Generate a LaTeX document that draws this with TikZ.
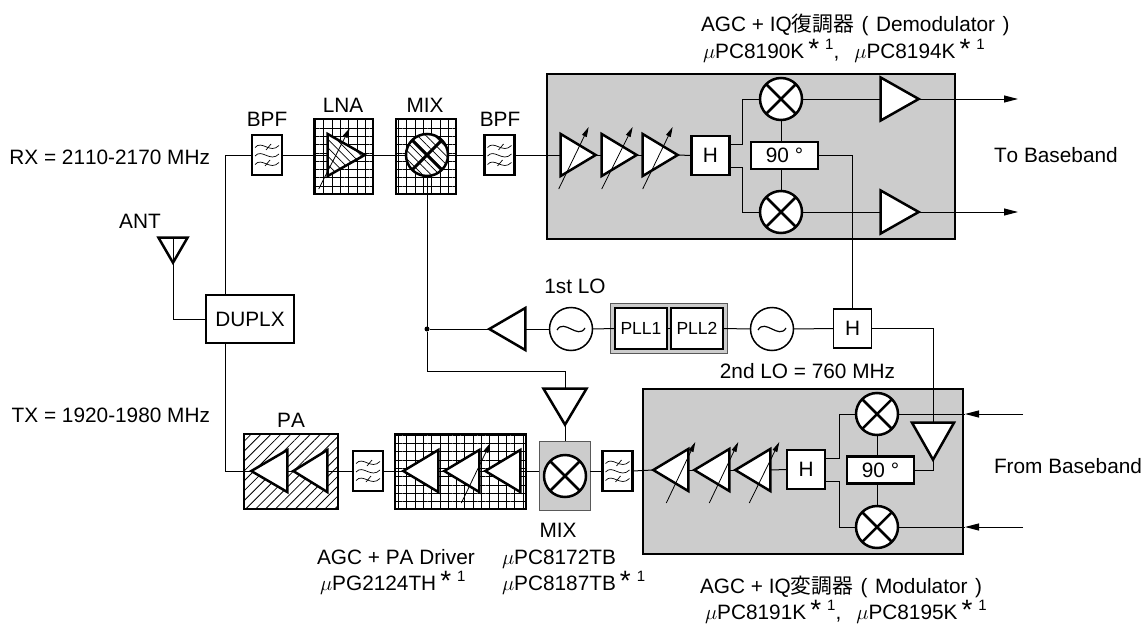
\documentclass[tikz,border=0pt]{standalone}
\usepackage{fontspec}
\setmainfont[Kerning=Off]{Liberation Sans}
\newfontfamily\cjk{Noto Sans CJK JP}
\usetikzlibrary{arrows.meta,patterns.meta,shapes.geometric}
\newcommand{\starone}{\smash{\hspace{4pt}{\fontsize{28}{28}\selectfont *}\hspace{6pt}\raisebox{9pt}{\fontsize{15}{15}\selectfont 1}}}
\begin{document}
\begin{tikzpicture}[
            x=1pt, y=-1pt, line width=1pt,
            every node/.style={inner sep=0pt, outer sep=0pt, font=\fontsize{20.8}{24}\selectfont},
            txt/.style={anchor=base},
            txtw/.style={anchor=base west},
            block/.style={rectangle, draw, line width=2.5pt, fill=white},
            graybox/.style={rectangle, draw, line width=2.5pt, fill=black!20},
            thinbox/.style={rectangle, draw=black!65, line width=1pt, fill=black!20},
            gridbox/.style={rectangle, draw, line width=2.5pt, fill=white, postaction={pattern={Hatch[angle=0, distance=8.3pt, line width=.7pt]}}},
            hatchbox/.style={rectangle, draw, line width=2.5pt, fill=white, postaction={pattern={Lines[angle=45, distance=7pt, line width=.8pt]}}},
            hbox/.style={block, minimum width=38pt, minimum height=39pt},
            ninety/.style={block, minimum width=67pt, minimum height=27pt},
            pllbox/.style={block, minimum width=52pt, minimum height=41pt, font=\fontsize{17.5}{20}\selectfont},
            bpf/.style={block, minimum width=30pt, minimum height=40pt,
                path picture={
                    \begin{scope}[shift={(path picture bounding box.center)}, line width=.7pt]
                        \foreach \wy in {-8.5,0,8.5} {
                            \draw (-12,\wy+1) .. controls (-5,\wy-7) and (3,\wy+8) .. (12,\wy-1);
                        }
                        \draw (-1,-5) -- (4,-11);
                        \draw (-2,11) -- (3,5);
                    \end{scope}
                }},
            mixer/.style={circle, draw, line width=2.5pt, fill=white, minimum size=42pt,
                path picture={
                    \draw (path picture bounding box.north west) -- (path picture bounding box.south east);
                    \draw (path picture bounding box.north east) -- (path picture bounding box.south west);
                }},
            hatchmixer/.style={circle, draw, line width=2.5pt, fill=white, minimum size=42pt,
                path picture={
                    \fill[pattern={Lines[angle=135, distance=6pt, line width=.7pt]}] (path picture bounding box.north west) rectangle (path picture bounding box.south east);
                    \draw[line width=3pt] (path picture bounding box.north west) -- (path picture bounding box.south east);
                    \draw[line width=3pt] (path picture bounding box.north east) -- (path picture bounding box.south west);
                }},
            osc/.style={circle, draw, line width=1.5pt, fill=white, minimum size=43pt,
                path picture={
                    \draw[shift={(path picture bounding box.center)}, line width=1.2pt] (-14,1) .. controls (-7,-11) and (7,11) .. (14,-1);
                }},
            amp/.style={isosceles triangle, isosceles triangle stretches, draw, line width=2.5pt, fill=white, minimum height=35pt, minimum width=42pt},
            ampr/.style={amp, shape border rotate=0, anchor=apex, xshift=-2.3pt},
            ampl/.style={amp, shape border rotate=180, anchor=apex, xshift=2.3pt},
            ampd/.style={amp, shape border rotate=270, anchor=apex, yshift=2.3pt},
            hatchamp/.style={postaction={pattern={Lines[angle=135, distance=6pt, line width=.7pt]}}},
            dot/.style={circle, fill, minimum size=5pt},
            sig/.style={-{Triangle[length=14pt, width=7pt]}},
            gain/.style={line width=.8pt, -{Triangle[length=10pt, width=5pt]}}
        ]
        \useasboundingbox (0,0) rectangle (1145,626);

        \node[thinbox, minimum width=117pt, minimum height=50pt] (pllouter) at (668.5,328) {};
        \node[graybox, minimum width=408pt, minimum height=165pt] (demod) at (751,156.5) {};
        \node[graybox, minimum width=320pt, minimum height=165pt] (mod) at (803,471.5) {};
        \node[thinbox, minimum width=51pt, minimum height=69pt] (txmixbox) at (564.5,475.5) {};

        \node[bpf] (bpfa) at (267,155) {};
        \node[gridbox, minimum width=59pt, minimum height=75pt] (lnabox) at (343.5,156.5) {};
        \node[ampr, hatchamp, minimum height=37pt] (lna) at (367,155) {};
        \node[gridbox, minimum width=60pt, minimum height=75pt] (mixabox) at (426,156.5) {};
        \node[hatchmixer] (mixa) at (427,155) {};
        \node[bpf] (bpfb) at (499.5,155) {};

        \node[ampr] (rxa) at (598,155) {};
        \node[ampr] (rxb) at (639,155) {};
        \node[ampr] (rxc) at (680,155) {};
        \node[hbox] (hrx) at (710.5,155.5) {H};
        \node[mixer] (mixi) at (781,99) {};
        \node[mixer] (mixq) at (781,212) {};
        \node[ninety] (rxninety) at (784.5,155.5) {90 °};
        \node[ampr, minimum height=38pt, minimum width=43pt] (ampi) at (921,99) {};
        \node[ampr, minimum height=38pt, minimum width=43pt] (ampq) at (921,212) {};
        \coordinate (outi) at (1018,99);
        \coordinate (outq) at (1018,212);

        \node[ampd, minimum height=25pt, minimum width=29pt] (ant) at (173,265) {};
        \node[block, minimum width=88pt, minimum height=48pt] (duplx) at (250,319) {DUPLX};

        \node[dot] (jct) at (427,329) {};
        \node[ampl, minimum height=36pt, minimum width=42pt] (loamp) at (487,329) {};
        \node[osc] (oscla) at (571,329) {};
        \node[pllbox] (plla) at (641,328.5) {PLL1};
        \node[pllbox] (pllb) at (697,328.5) {PLL2};
        \node[osc] (osclb) at (772,329) {};
        \node[hbox, line width=1.5pt] (hsec) at (852.5,328.5) {H};

        \node[hatchbox, minimum width=94pt, minimum height=75pt] (pabox) at (291,471.5) {};
        \node[ampl, minimum height=36pt] (paa) at (249,471) {};
        \node[ampl, minimum height=34pt] (pab) at (291,471) {};
        \node[bpf] (bpfc) at (368,471) {};
        \node[gridbox, minimum width=131pt, minimum height=75pt] (drvbox) at (460.5,471.5) {};
        \node[ampl] (drva) at (401,471) {};
        \node[ampl] (drvb) at (442,471) {};
        \node[ampl] (drvc) at (483,471) {};
        \node[ampd, minimum height=36pt, minimum width=43pt] (txlo) at (565,427) {};
        \node[mixer] (mixb) at (565,476) {};
        \node[bpf] (bpfd) at (617.5,471) {};
        \coordinate (lobend) at (565,371);

        \node[ampl] (txa) at (651,470) {};
        \node[ampl] (txb) at (692,470) {};
        \node[ampl] (txc) at (733,470) {};
        \node[hbox] (htx) at (806,469.5) {H};
        \node[mixer] (mixti) at (877,414) {};
        \node[mixer] (mixtq) at (877,527) {};
        \node[ninety] (txninety) at (880.5,470) {90 °};
        \node[ampd, minimum height=37pt, minimum width=42pt] (modamp) at (933,462) {};
        \coordinate (ini) at (1023,414);
        \coordinate (inq) at (1023,527);
        \coordinate (tipi) at (965,414);
        \coordinate (tipq) at (965,527);

        \draw (ant.lower side) |- (duplx.west);
        \draw (bpfa.west) -| ([xshift=-25pt]duplx.north);
        \draw ([xshift=-25pt]duplx.south) |- (paa.apex);
        \draw (bpfa.east) -- (lna.lower side);
        \draw (lna.apex) -- (mixa.west);
        \draw (mixa.east) -- (bpfb.west);
        \draw (bpfb.east) -- (rxa.lower side);
        \draw (rxa.apex) -- (rxb.lower side);
        \draw (rxb.apex) -- (rxc.lower side);
        \draw (rxc.apex) -- (hrx.west);
        \draw ([yshift=11.5pt]hrx.east) -- ++(13,0) |- (mixi.west);
        \draw ([yshift=-11.5pt]hrx.east) -- ++(13,0) |- (mixq.west);
        \draw (mixi.south) -- (mixi.south |- rxninety.north);
        \draw (mixq.north) -- (mixq.north |- rxninety.south);
        \draw (mixi.east) -- (ampi.lower side);
        \draw (mixq.east) -- (ampq.lower side);
        \draw[sig] (ampi.apex) -- (outi);
        \draw[sig] (ampq.apex) -- (outq);
        \draw (rxninety.east) -| (hsec.north);

        \draw (mixa.south) -- (jct);
        \draw (jct) -- (loamp.apex);
        \draw (loamp.lower side) -- (oscla.west);
        \draw (oscla.east) -- (plla.west);
        \draw (plla.east) -- (pllb.west);
        \draw (pllb.east) -- (osclb.west);
        \draw (osclb.east) -- (hsec.west);
        \draw (hsec.east) -| (modamp.lower side);
        \draw (jct) |- (lobend) -- (txlo.lower side);
        \draw (txlo.apex) -- (txmixbox.north -| txlo.apex);

        \draw (paa.lower side) -- (pab.apex);
        \draw (pab.lower side) -- (bpfc.west);
        \draw (bpfc.east) -- (drva.apex);
        \draw (drva.lower side) -- (drvb.apex);
        \draw (drvb.lower side) -- (drvc.apex);
        \draw (drvc.lower side) -- (drvc.lower side -| txmixbox.west);
        \draw (bpfd.west) -- (bpfd.west -| txmixbox.east);
        \draw (bpfd.east) -- (txa.apex);
        \draw (txa.lower side) -- (txb.apex);
        \draw (txb.lower side) -- (txc.apex);
        \draw (txc.lower side) -- (htx.west);
        \draw ([yshift=11.5pt]htx.east) -- ++(14,0) |- (mixti.west);
        \draw ([yshift=-11.5pt]htx.east) -- ++(14,0) |- (mixtq.west);
        \draw (mixti.south) -- (mixti.south |- txninety.north);
        \draw (mixtq.north) -- (mixtq.north |- txninety.south);
        \draw (txninety.east) -| (modamp.apex);
        \draw[sig] (ini) -- (tipi);
        \draw[sig] (inq) -- (tipq);
        \draw (tipi) -- (mixti.east);
        \draw (tipq) -- (mixtq.east);

        \foreach \tri/\ax/\ay/\bx/\by in {lna/-46/34/-15/-27, rxa/-37/34/-7/-28, rxb/-35/34/-4/-28, rxc/-35/34/-5/-28, drvb/17/32/46/-28, txa/13/33/42/-28, txb/15/33/44/-28, txc/14/33/44/-28} {
            \draw[gain] ([shift={(\ax,\ay)}]\tri.apex) -- ([shift={(\bx,\by)}]\tri.apex);
        }

        \node[txt, anchor=base east] (rxlabel) at (210,164) {RX = 2110-2170 MHz};
        \node[txt, anchor=base east] (txlabel) at (210,422) {TX = 1920-1980 MHz};
        \node[txt] (antlabel) at (140,228) {ANT};
        \node[txt] (bpfalabel) at (267,126) {BPF};
        \node[txt] (lnalabel) at (343,112) {LNA};
        \node[txt] (mixalabel) at (425,112) {MIX};
        \node[txt] (bpfblabel) at (500,126) {BPF};
        \node[txtw] (demodname) at (701,32) {AGC + IQ{\cjk 復調器}\hspace{7.5pt}(\hspace{7.5pt}Demodulator\hspace{7.5pt})};
        \node[txtw] (demodpart) at (703,59) {$\mu$PC8190K\starone,\hspace{15pt}$\mu$PC8194K\starone};
        \node[txtw] (tobase) at (994,162) {To Baseband};
        \node[txt] (firstlo) at (575,293) {1st LO};
        \node[txt] (secondlo) at (807.5,378) {2nd LO = 760 MHz};
        \node[txt] (palabel) at (291,427) {PA};
        \node[txtw] (frombase) at (994,473) {From Baseband};
        \node[txt] (mixblabel) at (558,537) {MIX};
        \node[txtw] (drvname) at (317,564) {AGC + PA Driver};
        \node[txtw] (drvpart) at (320,590) {$\mu$PG2124TH\starone};
        \node[txtw] (mixbpart) at (502,564) {$\mu$PC8172TB};
        \node[txtw] (mixbparttwo) at (502,590) {$\mu$PC8187TB\starone};
        \node[txtw] (modname) at (700,593) {AGC + IQ{\cjk 変調器}\hspace{7.5pt}(\hspace{7.5pt}Modulator\hspace{7.5pt})};
        \node[txtw] (modpart) at (705,619) {$\mu$PC8191K\starone,\hspace{15pt}$\mu$PC8195K\starone};
    \end{tikzpicture}
\end{document}
